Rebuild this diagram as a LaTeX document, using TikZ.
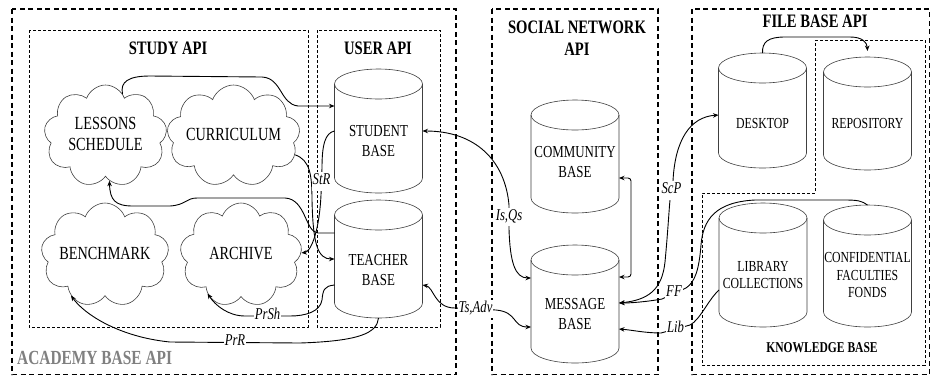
\documentclass[tikz,border=0pt]{standalone}
\usepackage{fontspec}
\setmainfont{Liberation Serif}
\usetikzlibrary{shapes.symbols,arrows.meta}
\newcommand\nx[1]{\scalebox{0.77}[1]{\begin{tabular}{@{}c@{}}#1\end{tabular}}}
\newcommand\cylout[1]{%
  \draw[cylline] ([yshift=-15pt]#1.north west) -- ([yshift=15pt]#1.south west)
    arc[start angle=180, end angle=360, x radius=44pt, y radius=15pt]
    -- ([yshift=-15pt]#1.north east);
  \draw[cylline] ([yshift=-15pt]#1.north) ellipse[x radius=44pt, y radius=15pt];
}
\begin{document}
\begin{tikzpicture}[x=1pt,y=1pt,
  outerbox/.style={line width=1.3pt, dash pattern=on 5pt off 3.5pt},
  innerbox/.style={line width=0.8pt, dash pattern=on 3pt off 2pt},
  cloudnode/.style={cloud, cloud puffs=9, cloud puff arc=140, cloud ignores aspect,
    draw=black!75, line width=0.6pt, align=center, inner sep=0pt,
    font=\fontsize{18.5}{20.5}\selectfont},
  cylbody/.style={rectangle, minimum width=88pt, inner sep=0pt, outer sep=0pt},
  cylline/.style={draw=black!75, line width=0.6pt},
  cyltxt/.style={align=center, inner sep=0pt, font=\fontsize{16.8}{20}\selectfont},
  cyltxtsmall/.style={align=center, inner sep=0pt, font=\fontsize{15.3}{17.5}\selectfont},
  tip/.tip={Stealth[length=5.5pt,width=4.5pt]},
  conn/.style={line width=0.9pt, -tip},
  both/.style={line width=0.9pt, tip-tip},
  lbl/.style={fill=white, inner sep=1pt, font=\itshape\fontsize{16.5}{16.5}\selectfont},
  title/.style={align=center, inner sep=0pt, font=\bfseries\fontsize{19}{22}\selectfont}
]
\useasboundingbox (0,0) rectangle (931,-376);
\fill[white] (0,0) rectangle (931,-376);

% ---- boxes
\draw[outerbox] (12,-9) rectangle (456,-374.5);
\draw[outerbox] (492,-9) rectangle (658,-374.5);
\draw[outerbox] (692,-9) rectangle (929.5,-374.5);
\draw[innerbox] (29,-30) rectangle (308,-327);
\draw[innerbox] (317,-30) rectangle (440,-327);
\draw[innerbox] (815,-40) -- (925,-40) -- (925,-365) -- (702,-365) -- (702,-193) -- (815,-193) -- cycle;

% ---- titles
\node[title] (tstudy) at (168,-50) {\nx{STUDY API}};
\node[title] (tuser) at (378,-50) {\nx{USER API}};
\node[title] (tsocial) at (577,-40) {\nx{SOCIAL NETWORK\\API}};
\node[title] (tfile) at (815,-23) {\nx{FILE BASE API}};
\node[title, text=black!50, anchor=west, font=\bfseries\fontsize{20}{22}\selectfont] (tacad) at (17,-360) {\nx{ACADEMY BASE API}};
\node[title, font=\bfseries\fontsize{15}{17}\selectfont] (tknow) at (822,-349) {\nx{KNOWLEDGE BASE}};

% ---- clouds
\node[cloudnode, minimum width=123pt, minimum height=102pt] (ls) at (105.5,-136) {\nx{LESSONS\\SCHEDULE}};
\node[cloudnode, minimum width=131pt, minimum height=102pt] (cur) at (233.5,-136) {\nx{CURRICULUM}};
\node[cloudnode, minimum width=122pt, minimum height=104pt] (ben) at (105,-255) {\nx{BENCHMARK}};
\node[cloudnode, minimum width=122pt, minimum height=104pt] (arc) at (241,-255) {\nx{ARCHIVE}};

% ---- cylinders
\node[cylbody, minimum height=124pt] (stu) at (378.5,-131) {};
\node[cylbody, minimum height=118pt] (tea) at (378.5,-259) {};
\node[cylbody, minimum height=113pt] (com) at (575,-156.5) {};
\node[cylbody, minimum height=118pt] (msg) at (575,-304) {};
\node[cylbody, minimum height=115pt] (desk) at (762.5,-110.5) {};
\node[cylbody, minimum height=113pt] (repo) at (867.5,-113.5) {};
\node[cylbody, minimum height=124pt] (lib) at (763,-265) {};
\node[cylbody, minimum height=122pt] (conf) at (867.5,-266) {};
\cylout{stu}\cylout{tea}\cylout{com}\cylout{msg}
\cylout{desk}\cylout{repo}\cylout{lib}\cylout{conf}
\node[cyltxt] (stut) at ([yshift=-11.5pt]stu.center) {\nx{STUDENT\\BASE}};
\node[cyltxt] (teat) at ([yshift=-12.5pt]tea.center) {\nx{TEACHER\\BASE}};
\node[cyltxt] (comt) at ([yshift=-7pt]com.center) {\nx{COMMUNITY\\BASE}};
\node[cyltxt] (msgt) at ([yshift=-11pt]msg.center) {\nx{MESSAGE\\BASE}};
\node[cyltxtsmall] (deskt) at ([yshift=-14.5pt]desk.center) {\nx{DESKTOP}};
\node[cyltxtsmall] (repot) at ([yshift=-11.5pt]repo.center) {\nx{REPOSITORY}};
\node[cyltxtsmall] (libt) at ([yshift=-11.5pt]lib.center) {\nx{LIBRARY\\COLLECTIONS}};
\node[cyltxtsmall] (conft) at ([yshift=-10.5pt]conf.center) {\nx{CONFIDENTIAL\\FACULTIES\\FONDS}};

% ---- connectors
% lessons schedule -> student base
\draw[conn] (ls.68) .. controls (120,-82) and (128,-76) .. (150,-76) -- (262,-77)
  .. controls (282,-78) and (280,-104) .. (298,-106) -- ([yshift=25pt]stu.west);
% curriculum -> teacher base
\draw[conn] (cur.-17) .. controls (310,-160) and (312,-175) .. (312,-200)
  .. controls (313,-245) and (318,-259) .. (tea.west);
% student base -> archive (StR)
\draw[conn] (stu.west) .. controls (325,-133) and (322,-145) .. (322,-168)
  -- node[lbl] {\nx{StR}} (321,-195) .. controls (319,-235) and (310,-252) .. (arc.2);
% teacher base -> lessons schedule
\draw[conn] ([yshift=26pt]tea.west) -- (318,-233) .. controls (305,-232) and (306,-199) .. (285,-198)
  -- (197,-198) .. controls (186,-198) and (186,-205) .. (170,-206) -- (133,-206)
  .. controls (115,-206) and (110,-200) .. (ls.-85);
% teacher base -> archive (PrSh)
\draw[conn] ([yshift=-26pt]tea.west) .. controls (324,-286) and (323,-290) .. (322,-300)
  .. controls (320,-312) and (305,-316) .. (290,-316) -- node[lbl] {\nx{PrSh}} (245,-316)
  .. controls (228,-316) and (215,-305) .. (arc.-131);
% teacher base -> benchmark (PrR)
\draw[conn] (tea.south) .. controls (377,-333) and (360,-341) .. (300,-343)
  -- node[lbl] {\nx{PrR}} (170,-342) .. controls (120,-337) and (85,-315) .. (ben.-130);
% student base <-> message base (Is,Qs)
\draw[both] (stu.east) .. controls (475,-131) and (505,-160) .. (509,-205)
  -- node[lbl] {\nx{Is,Qs}} (509,-229) .. controls (510,-262) and (515,-278) .. ([yshift=26pt]msg.west);
% teacher base <-> message base (Ts,Adv)
\draw[both] ([yshift=-26pt]tea.east) .. controls (434,-287) and (434,-308) .. (455,-308)
  -- node[lbl] {\nx{Ts,Adv}} (496,-310) .. controls (518,-312) and (512,-327) .. ([yshift=-23pt]msg.west);
% community base <-> message base
\draw[both, rounded corners=3pt] ([yshift=-21.5pt]com.east) -| ([xshift=12pt,yshift=27pt]msg.east) -- ([yshift=27pt]msg.east);
% message base <-> desktop (ScP)
\draw[both] ([yshift=1pt]msg.east) .. controls (648,-300) and (662,-290) .. (665,-262)
  .. controls (668,-230) and (669,-210) .. (670,-200)
  -- node[lbl] {\nx{ScP}} (673,-181) .. controls (675,-140) and (690,-117) .. ([yshift=-4.5pt]desk.west);
% confidential -> message base (FF)
\draw[conn] (conf.north) .. controls (862,-201) and (858,-200) .. (845,-200) -- (755,-200)
  .. controls (715,-202) and (703,-220) .. (701,-245) .. controls (699,-270) and (695,-282) .. (686,-288)
  -- node[lbl] {\nx{FF}} (662,-299) .. controls (645,-302) and (630,-303) .. ([yshift=1pt]msg.east);
% library -> message base (Lib)
\draw[conn] ([yshift=-25pt]lib.west) .. controls (708,-300) and (700,-320) .. (690,-325)
  -- node[lbl] {\nx{Lib}} (661,-333) .. controls (645,-333) and (632,-330) .. ([yshift=-25pt]msg.east);
% desktop -> repository
\draw[conn] (desk.north) .. controls (762,-42) and (768,-37) .. (785,-37) -- (850,-37)
  .. controls (862,-37) and (867,-42) .. ([yshift=6pt]repo.north);
\end{tikzpicture}
\end{document}
